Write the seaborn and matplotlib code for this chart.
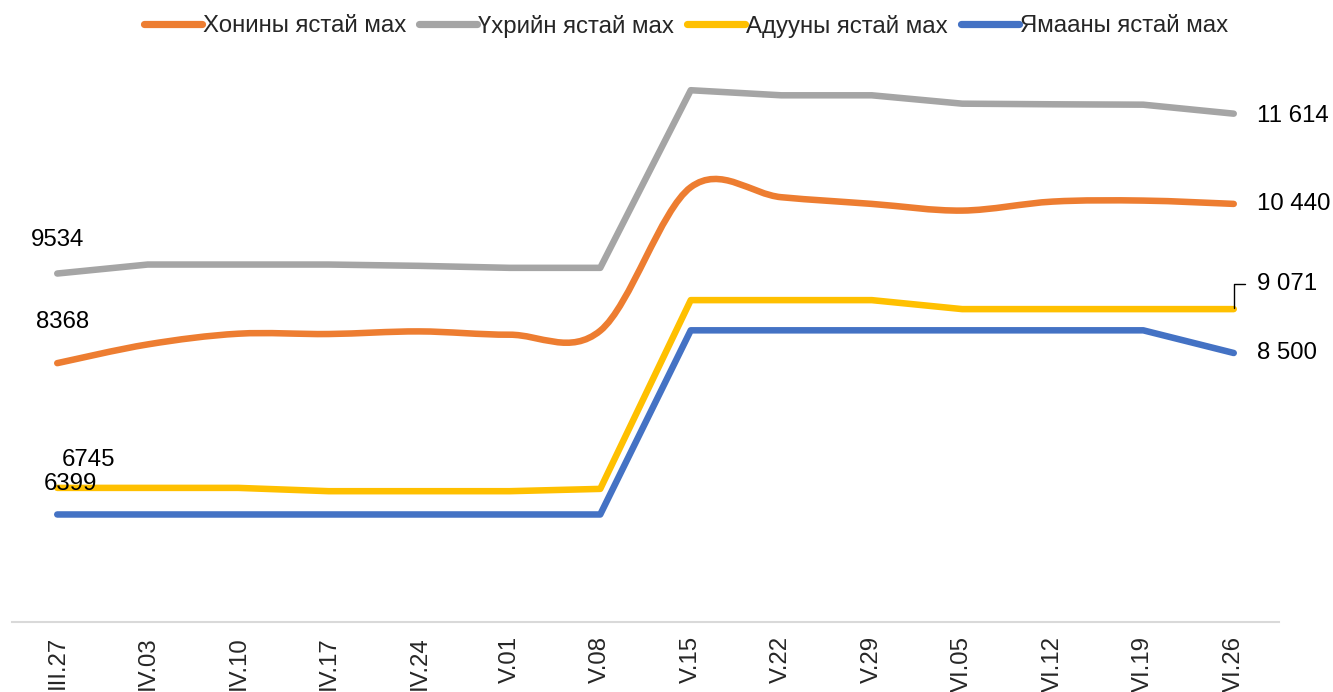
import numpy as np
import pandas as pd
import matplotlib
matplotlib.use("Agg")
import matplotlib.pyplot as plt
from matplotlib.path import Path
from matplotlib.patches import PathPatch
from matplotlib.lines import Line2D
import seaborn as sns

# Weekly meat prices
dates = ["III.27", "IV.03", "IV.10", "IV.17", "IV.24", "V.01", "V.08",
         "V.15", "V.22", "V.29", "VI.05", "VI.12", "VI.19", "VI.26"]
khonin = [8368, 8612, 8751, 8747, 8781, 8738, 8790,
          10657, 10527, 10440, 10353, 10470, 10483, 10440]
ukhriin = [9534, 9651, 9651, 9651, 9634, 9608, 9608,
           11919, 11853, 11853, 11744, 11736, 11731, 11614]
aduu = [6745, 6745, 6745, 6702, 6702, 6702, 6732,
        9188, 9188, 9188, 9071, 9071, 9071, 9071]
yamaa = [6399, 6399, 6399, 6399, 6399, 6399, 6399,
         8795, 8795, 8795, 8795, 8795, 8795, 8500]

names = ["Хонины ястай мах", "Үхрийн ястай мах", "Адууны ястай мах", "Ямааны ястай мах"]
colors = ["#ED7D31", "#A5A5A5", "#FFC000", "#4472C4"]

sns.set_style("white")
plt.rcParams["font.family"] = ["Liberation Sans", "DejaVu Sans"]

LW = 4.7
FS = 17.3


def smooth_path(xs, ys):
    # Excel style smoothed line (Catmull-Rom as cubic Bezier)
    pts = np.column_stack([xs, ys]).astype(float)
    verts = [pts[0]]
    codes = [Path.MOVETO]
    n = len(pts)
    for i in range(n - 1):
        p0 = pts[i - 1] if i > 0 else pts[i]
        p3 = pts[i + 2] if i + 2 < n else pts[i + 1]
        c1 = pts[i] + (pts[i + 1] - p0) / 6
        c2 = pts[i + 1] - (p3 - pts[i]) / 6
        verts += [c1, c2, pts[i + 1]]
        codes += [Path.CURVE4] * 3
    return Path(verts, codes)


fig = plt.figure(figsize=(13.33, 6.92), dpi=100)
ax = fig.add_axes([12 / 1333, 70 / 692, 1267 / 1333, 538 / 692])

x = np.arange(len(dates))

# orange smoothed line
patch = PathPatch(smooth_path(x, khonin), fill=False, edgecolor=colors[0],
                  lw=LW, capstyle="round", joinstyle="round")
ax.add_patch(patch)

df = pd.DataFrame({
    "x": np.tile(x, 3),
    "value": ukhriin + aduu + yamaa,
    "series": [names[1]] * len(x) + [names[2]] * len(x) + [names[3]] * len(x),
})
sns.lineplot(data=df, x="x", y="value", hue="series", palette=colors[1:],
             linewidth=LW, legend=False, sort=False, ax=ax,
             solid_capstyle="round", solid_joinstyle="round")

ax.set_xlim(-0.5, len(dates) - 0.5)
ax.set_ylim(5000, 12000)

for s in ["top", "right", "left"]:
    ax.spines[s].set_visible(False)
ax.spines["bottom"].set_color("#D9D9D9")
ax.spines["bottom"].set_linewidth(1.5)
ax.set_yticks([])
ax.set_xticks(x)
ax.set_xticklabels(dates, rotation=90, fontsize=FS, color="#262626", va="top")
ax.set_xticks(np.arange(len(dates) + 1) - 0.5, minor=True)
ax.tick_params(axis="x", which="major", length=0, pad=10)
ax.tick_params(axis="x", which="minor", length=5, width=1.5, color="#D9D9D9")
ax.set_xlabel("")
ax.set_ylabel("")

# first point labels
first_off = [(5, 41), (0, 34), (31, 28), (13, 30)]
series = [khonin, ukhriin, aduu, yamaa]
for vals, off in zip(series, first_off):
    ax.annotate(f"{vals[0]}", (x[0], vals[0]), xytext=off, textcoords="offset pixels",
                ha="center", va="center", fontsize=FS, color="black")

# last point labels
last = x[-1]
for vals, dy in zip(series, [0, -2, None, 0]):
    txt = f"{vals[-1]:,}".replace(",", " ")
    if dy is None:
        ax.annotate(txt, (last, vals[-1]), xytext=(23, 25), textcoords="offset pixels",
                    ha="left", va="center", fontsize=FS, color="black",
                    arrowprops=dict(arrowstyle="-", color="black", lw=1,
                                    connectionstyle="angle,angleA=0,angleB=90,rad=0",
                                    relpos=(0, 0.5), shrinkA=6, shrinkB=1))
    else:
        ax.annotate(txt, (last, vals[-1]), xytext=(23, dy), textcoords="offset pixels",
                    ha="left", va="center", fontsize=FS, color="black")

handles = [Line2D([], [], color=c, lw=LW + 0.5, solid_capstyle="round") for c in colors]
fig.legend(handles, names, loc="center", bbox_to_anchor=(686 / 1333, 1 - 26 / 692),
           ncol=4, frameon=False, fontsize=FS, handlelength=2.4, handletextpad=0.05,
           columnspacing=0.55, borderpad=0)

fig.savefig("out.png", dpi=100)
